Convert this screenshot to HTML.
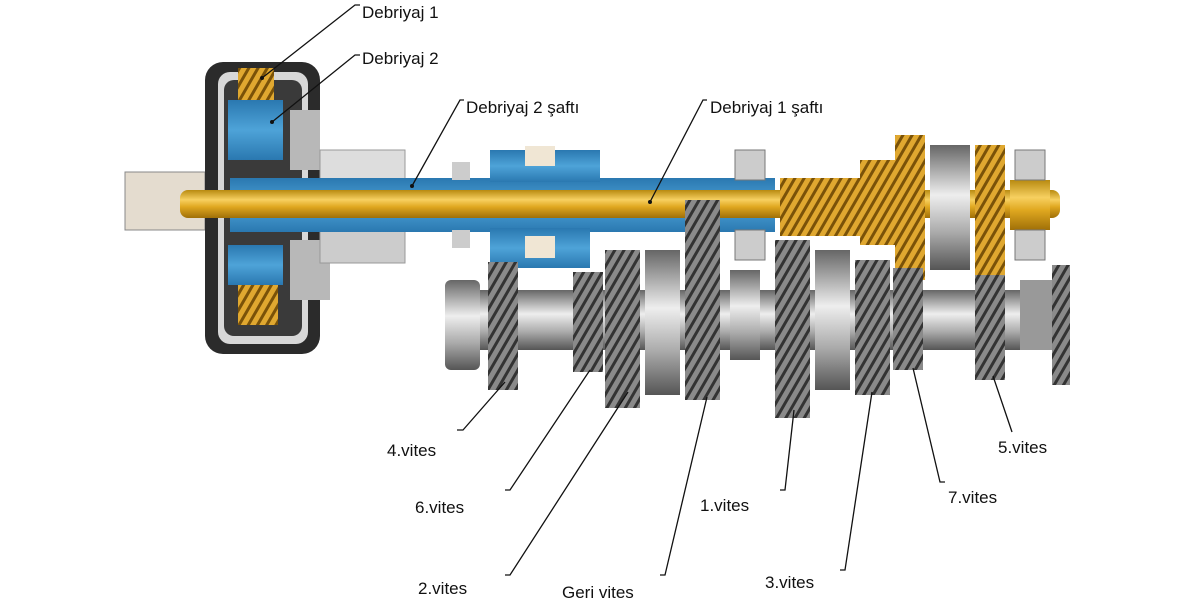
<!DOCTYPE html>
<html><head><meta charset="utf-8"><style>
html,body{margin:0;padding:0;background:#fff;width:1200px;height:600px;overflow:hidden}
svg text{font-family:"Liberation Sans",sans-serif;font-size:17px;fill:#111}
</style></head><body>
<svg width="1200" height="600" viewBox="0 0 1200 600" xmlns="http://www.w3.org/2000/svg">
<defs>
<linearGradient id="gy" x1="0" y1="0" x2="0" y2="1"><stop offset="0" stop-color="#b88a10"/><stop offset="0.35" stop-color="#f7d060"/><stop offset="0.6" stop-color="#e0a820"/><stop offset="1" stop-color="#a07008"/></linearGradient>
<linearGradient id="gs" x1="0" y1="0" x2="0" y2="1"><stop offset="0" stop-color="#666"/><stop offset="0.4" stop-color="#eee"/><stop offset="0.7" stop-color="#aaa"/><stop offset="1" stop-color="#555"/></linearGradient>
<linearGradient id="gb" x1="0" y1="0" x2="0" y2="1"><stop offset="0" stop-color="#2a78b0"/><stop offset="0.5" stop-color="#4ea3d8"/><stop offset="1" stop-color="#2a78b0"/></linearGradient>
<pattern id="teeth" width="8" height="8" patternUnits="userSpaceOnUse" patternTransform="rotate(30)"><rect width="8" height="8" fill="#8a8a8a"/><rect width="3" height="8" fill="#333"/></pattern>
<pattern id="teethy" width="8" height="8" patternUnits="userSpaceOnUse" patternTransform="rotate(30)"><rect width="8" height="8" fill="#e0a830"/><rect width="3" height="8" fill="#7a5208"/></pattern>
</defs>
<!-- input stub -->
<rect x="125" y="172" width="80" height="58" fill="#e4dccf" stroke="#888"/>
<!-- clutch housing -->
<rect x="205" y="62" width="115" height="292" rx="18" fill="#2b2b2b"/>
<rect x="218" y="72" width="90" height="272" rx="12" fill="#d8d8d8"/>
<rect x="224" y="80" width="78" height="256" rx="10" fill="#3a3a3a"/>
<rect x="238" y="68" width="36" height="32" fill="url(#teethy)"/>
<rect x="238" y="285" width="40" height="40" fill="url(#teethy)"/>
<rect x="228" y="100" width="55" height="60" fill="url(#gb)"/>
<rect x="228" y="245" width="55" height="40" fill="url(#gb)"/>
<rect x="290" y="110" width="30" height="60" fill="#b8b8b8"/>
<rect x="290" y="240" width="40" height="60" fill="#b8b8b8"/>
<rect x="320" y="150" width="85" height="30" fill="#ddd" stroke="#999"/>
<rect x="320" y="228" width="85" height="35" fill="#ccc" stroke="#999"/>
<!-- blue sleeve -->
<rect x="230" y="178" width="545" height="54" fill="url(#gb)"/>
<rect x="490" y="150" width="110" height="32" fill="url(#gb)"/>
<rect x="490" y="228" width="100" height="40" fill="url(#gb)"/>
<rect x="525" y="146" width="30" height="20" fill="#f0e6d4"/>
<rect x="525" y="236" width="30" height="22" fill="#f0e6d4"/>
<rect x="452" y="162" width="18" height="18" fill="#ccc"/>
<rect x="452" y="230" width="18" height="18" fill="#ccc"/>
<!-- yellow shaft -->
<rect x="180" y="190" width="880" height="28" rx="8" fill="url(#gy)"/>
<rect x="780" y="178" width="100" height="58" fill="url(#teethy)"/>
<rect x="895" y="135" width="30" height="145" fill="url(#teethy)"/>
<rect x="860" y="160" width="35" height="85" fill="url(#teethy)"/>
<rect x="975" y="145" width="30" height="135" fill="url(#teethy)"/>
<rect x="930" y="145" width="40" height="125" fill="url(#gs)"/>
<rect x="1010" y="180" width="40" height="50" fill="url(#gy)"/>
<rect x="735" y="150" width="30" height="30" fill="#ccc" stroke="#777"/>
<rect x="735" y="230" width="30" height="30" fill="#ccc" stroke="#777"/>
<rect x="1015" y="150" width="30" height="30" fill="#ccc" stroke="#777"/>
<rect x="1015" y="230" width="30" height="30" fill="#ccc" stroke="#777"/>
<!-- lower shaft -->
<rect x="445" y="290" width="610" height="60" fill="url(#gs)"/>
<rect x="445" y="280" width="35" height="90" rx="6" fill="url(#gs)"/>
<rect x="488" y="262" width="30" height="128" fill="url(#teeth)"/>
<rect x="573" y="272" width="30" height="100" fill="url(#teeth)"/>
<rect x="605" y="250" width="35" height="158" fill="url(#teeth)"/>
<rect x="645" y="250" width="35" height="145" fill="url(#gs)"/>
<rect x="685" y="200" width="35" height="200" fill="url(#teeth)"/>
<rect x="730" y="270" width="30" height="90" fill="url(#gs)"/>
<rect x="775" y="240" width="35" height="178" fill="url(#teeth)"/>
<rect x="815" y="250" width="35" height="140" fill="url(#gs)"/>
<rect x="855" y="260" width="35" height="135" fill="url(#teeth)"/>
<rect x="893" y="268" width="30" height="102" fill="url(#teeth)"/>
<rect x="975" y="275" width="30" height="105" fill="url(#teeth)"/>
<rect x="1020" y="280" width="35" height="70" fill="#999"/>
<rect x="1052" y="265" width="18" height="120" fill="url(#teeth)"/>
<!-- leader lines -->
<g stroke="#111" stroke-width="1.3" fill="none">
<polyline points="262,78 355,5 360,5"/>
<polyline points="272,122 355,55 360,55"/>
<polyline points="412,186 460,100 464,100"/>
<polyline points="650,202 703,100 707,100"/>
<polyline points="505,382 463,430 457,430"/>
<polyline points="590,370 510,490 505,490"/>
<polyline points="628,392 510,575 505,575"/>
<polyline points="707,397 665,575 660,575"/>
<polyline points="794,410 785,490 780,490"/>
<polyline points="872,392 845,570 840,570"/>
<polyline points="913,368 940,482 945,482"/>
<polyline points="993,376 1012,432"/>
</g>
<g fill="#111"><circle cx="262" cy="78" r="2"/><circle cx="272" cy="122" r="2"/><circle cx="412" cy="186" r="2"/><circle cx="650" cy="202" r="2"/></g>
<text x="362" y="18">Debriyaj 1</text>
<text x="362" y="64">Debriyaj 2</text>
<text x="466" y="113">Debriyaj 2 şaftı</text>
<text x="710" y="113">Debriyaj 1 şaftı</text>
<text x="387" y="456">4.vites</text>
<text x="415" y="513">6.vites</text>
<text x="418" y="594">2.vites</text>
<text x="562" y="598">Geri vites</text>
<text x="700" y="511">1.vites</text>
<text x="765" y="588">3.vites</text>
<text x="948" y="503">7.vites</text>
<text x="998" y="453">5.vites</text>
</svg>
</body></html>
